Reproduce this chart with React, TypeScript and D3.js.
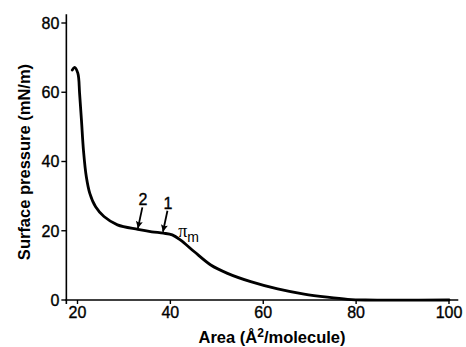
import React from "react";
import * as d3 from "d3";

// isotherm
const area = [18.86, 19.35, 20.07, 20.45, 20.85, 21.3, 21.9, 22.65, 23.9, 25.7, 28.6, 33, 36, 38.5, 40.4, 42.2, 45.1, 48.7, 52.3, 57.3, 63.1, 68.8, 73.8, 78.2, 82, 100];
const pressure = [66.4, 67.2, 65.5, 59.7, 52, 43, 35.6, 30.8, 26.9, 24.1, 21.7, 20.4, 19.7, 19.3, 18.8, 17.3, 14.0, 10.1, 7.7, 5.3, 3.2, 1.7, 0.8, 0.2, 0, 0];

const xTicks = [20, 40, 60, 80, 100];
const yTicks = [0, 20, 40, 60, 80];

// arrow labels: tip sits on the curve
const arrowLabels = ["2", "1"];
const arrowArea = [33.0, 38.4];
const arrowPressure = [20.7, 19.7];

const W = 466;
const H = 347;
const font = "'Liberation Sans', Arial, sans-serif";

export default function App() {
    const x = d3.scaleLinear().domain([20, 100]).range([77.5, 449]);
    const y = d3.scaleLinear().domain([0, 80]).range([300, 23]);

    const pts = area.map((a, i) => [a, pressure[i]] as [number, number]);
    const line = d3.line<[number, number]>()
        .x(d => x(d[0]))
        .y(d => y(d[1]))
        .curve(d3.curveCatmullRom.alpha(0.5));

    const x0 = x(17.6);
    const xEnd = x(102);

    return (
        <svg width={W} height={H} style={{ position: "absolute", left: 0, top: 0, background: "#fff" }}
            fontFamily={font}>
            <defs>
                <marker id="ah" viewBox="0 0 10 10" refX="10" refY="5" markerWidth="8" markerHeight="7"
                    markerUnits="userSpaceOnUse" orient="auto">
                    <path d="M0,0 L10,5 L0,10 L2,5 z" fill="#000" />
                </marker>
            </defs>

            {/* axes */}
            <line x1={x0} x2={x0} y1={y(82.5)} y2={y(0) + 4} stroke="#000" strokeWidth={1.6} />
            <line x1={x0 - 1} x2={xEnd} y1={y(0)} y2={y(0)} stroke="#000" strokeWidth={1.6} />

            {yTicks.map(t => (
                <g key={"y" + t}>
                    <line x1={x0 - 5} x2={x0} y1={y(t)} y2={y(t)} stroke="#000" strokeWidth={1.4} />
                    <text x={x0 - 7} y={y(t)} dy="0.36em" textAnchor="end" fontSize={16}
                        stroke="#000" strokeWidth={0.35}>{t}</text>
                </g>
            ))}
            {xTicks.map(t => (
                <g key={"x" + t}>
                    <line x1={x(t)} x2={x(t)} y1={y(0)} y2={y(0) + 4} stroke="#000" strokeWidth={1.4} />
                    <text x={x(t)} y={318} textAnchor="middle" fontSize={16}
                        stroke="#000" strokeWidth={0.35}>{t}</text>
                </g>
            ))}

            <text x={272} y={343} textAnchor="middle" fontSize={16.5} fontWeight="bold">
                Area (Å<tspan dy="-6" fontSize={12}>2</tspan><tspan dy="6">/molecule)</tspan>
            </text>
            <text transform={`translate(30,162) rotate(-90)`} textAnchor="middle" fontSize={16.5} fontWeight="bold">
                Surface pressure (mN/m)
            </text>

            <path d={line(pts) ?? ""} fill="none" stroke="#000" strokeWidth={2.8} strokeLinecap="round" />

            {arrowLabels.map((lab, i) => {
                const tx = x(arrowArea[i]);
                const ty = y(arrowPressure[i]);
                return (
                    <g key={lab}>
                        <line x1={tx + 4.5} y1={ty - 21} x2={tx} y2={ty} stroke="#000" strokeWidth={1.8}
                            markerEnd="url(#ah)" />
                        <text x={tx + 5} y={ty - 23} textAnchor="middle" fontSize={16}
                            stroke="#000" strokeWidth={0.35}>{lab}</text>
                    </g>
                );
            })}

            <text x={x(40.4) + 6} y={y(18.8) + 2} fontSize={18} fontFamily="'Liberation Serif', serif">
                π<tspan dy="5" fontSize={14} fontFamily={font}>m</tspan>
            </text>
        </svg>
    );
}
